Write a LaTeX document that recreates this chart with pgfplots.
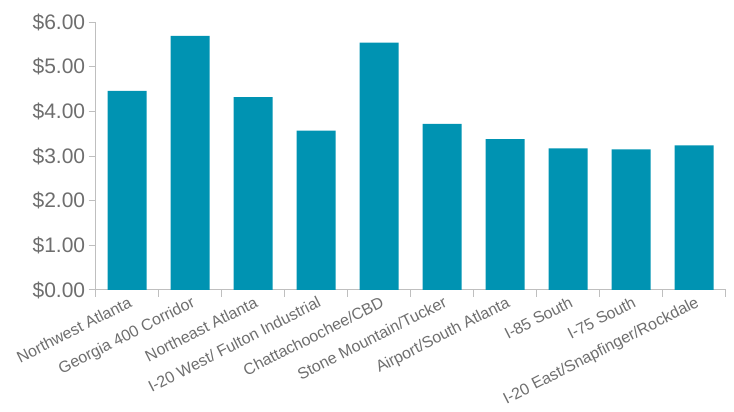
\documentclass[border=0pt]{standalone}
\usepackage{pgfplots}
\pgfplotsset{compat=1.18}
\usepackage{fontspec}
\setmainfont{Liberation Sans}
\definecolor{barteal}{HTML}{0093B2}
\definecolor{txtgray}{HTML}{6E6E6E}
\definecolor{axgray}{HTML}{BFBFBF}
\begin{document}
\begin{tikzpicture}
\useasboundingbox (-95.7pt,-122pt) rectangle (638.3pt,290pt);
\begin{axis}[
  at={(0pt,0pt)}, anchor=south west,
  scale only axis,
  width=630pt, height=268pt,
  xmin=-0.5, xmax=9.5,
  ymin=0, ymax=6,
  axis lines*=left,
  axis line style={draw=axgray, line width=1pt},
  every tick/.style={draw=axgray, line width=1pt},
  tick align=outside,
  major tick length=7pt,
  xtick={-0.5,0.5,...,9.5},
  xticklabels={},
  xticklabel style={rotate=27, anchor=north east, font=\fontsize{16}{18}\selectfont, text=txtgray, inner sep=2pt, yshift=-3pt},
  extra x ticks={0,1,2,3,4,5,6,7,8,9},
  extra x tick labels={Northwest Atlanta,Georgia 400 Corridor,Northeast Atlanta,I-20 West/ Fulton Industrial,Chattachoochee/CBD,Stone Mountain/Tucker,Airport/South Atlanta,I-85 South,I-75 South,I-20 East/Snapfinger/Rockdale},
  extra x tick style={major tick length=0pt},
  ytick={0,1,2,3,4,5,6},
  yticklabels={\$0.00,\$1.00,\$2.00,\$3.00,\$4.00,\$5.00,\$6.00},
  yticklabel style={font=\fontsize{21}{24}\selectfont, text=txtgray},
  /pgf/number format/assume math mode=true,
  ybar, bar width=0.62,
  clip=false,
]
\addplot[fill=barteal, draw=none] coordinates {
(0,4.46) (1,5.69) (2,4.32) (3,3.57) (4,5.54) (5,3.72) (6,3.38) (7,3.17) (8,3.15) (9,3.24)
};
\end{axis}
\end{tikzpicture}
\end{document}
